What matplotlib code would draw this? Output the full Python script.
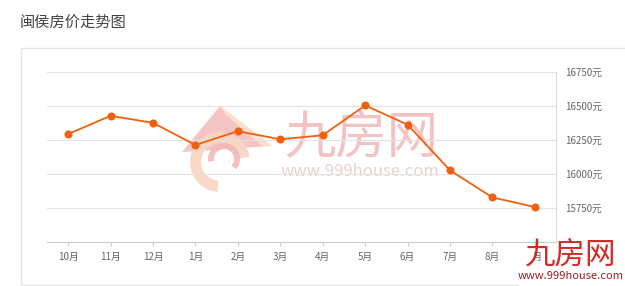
import numpy as np
import matplotlib
matplotlib.use("Agg")
import matplotlib.pyplot as plt
from matplotlib.patches import Polygon, Wedge, Rectangle

plt.rcParams["font.family"] = ["Noto Sans CJK SC", "DejaVu Sans"]
plt.rcParams["axes.unicode_minus"] = False

# 数据
months = ["10月", "11月", "12月", "1月", "2月", "3月", "4月", "5月", "6月", "7月", "8月", "9月"]
prices = [16294, 16428, 16376, 16213, 16315, 16255, 16285, 16504, 16363, 16027, 15828, 15757]
y_ticks = [15750, 16000, 16250, 16500, 16750]
y_min, y_max = 15500, 16750

W, H = 625, 286
LINE = "#f0600f"
GRID = "#e3e3e3"


def fx(x):
    return x / W


def fy(y):
    return 1 - y / H


fig = plt.figure(figsize=(W / 100, H / 100), dpi=100)

# 标题 + 卡片边框
fig.text(fx(20), fy(22), "闽侯房价走势图", fontsize=11, color="#444444", va="center", ha="left")
fig.patches.append(Rectangle((fx(20.5), fy(285)), fx(640), fy(47.5) - fy(285), transform=fig.transFigure,
                             fill=False, edgecolor="#e6e6e6", lw=1.0))

ax = fig.add_axes([fx(47), fy(242), fx(556) - fx(47), fy(72) - fy(242)])
x = np.arange(len(months))

ax.set_xlim(-0.5, len(months) - 0.5)
ax.set_ylim(y_min, y_max)
ax.set_xticks(x)
ax.set_xticklabels(months, fontsize=7, color="#666666")
ax.set_yticks(y_ticks)
ax.set_yticklabels([f"{v}元" for v in y_ticks], fontsize=7, color="#666666")
ax.yaxis.tick_right()
ax.tick_params(axis="y", length=0, pad=6.5)
ax.tick_params(axis="x", length=3, color="#cccccc", pad=4)

for sp in ["top", "left"]:
    ax.spines[sp].set_visible(False)
ax.spines["bottom"].set_color("#cccccc")
ax.spines["right"].set_color("#dddddd")
ax.spines["bottom"].set_linewidth(0.8)
ax.spines["right"].set_linewidth(0.8)
for v in y_ticks:
    ax.axhline(v, color=GRID, lw=0.8, zorder=0)

# 中间水印
wm = fig.add_axes([0, 0, 1, 1], zorder=0.5)
wm.set_xlim(0, W)
wm.set_ylim(H, 0)
wm.axis("off")
wm.patch.set_alpha(0)
wm.add_patch(Polygon([[182, 152], [220, 106], [272, 146]], closed=True, color="#f5c4c4", lw=0))
wm.add_patch(Polygon([[220, 106], [272, 146], [262, 146], [224, 113]], closed=True,
                     color="#fbe0cc", lw=0))
wm.add_patch(Wedge((220, 162), 30, 95, 350, width=11, color="#f9d6c4", alpha=0.95, lw=0))
wm.add_patch(Wedge((224, 159), 16, 170, 40, width=6, color="#f2b8b8", alpha=0.9, lw=0))
wm.text(361, 137, "九房网", fontsize=37, color="#f0b4b4", alpha=0.8, ha="center", va="center",
        fontweight="light")
wm.text(360, 172, "www.999house.com", fontsize=12, color="#e6cccc", alpha=0.9, ha="center", va="center")

ax.patch.set_alpha(0)
ax.set_zorder(1)
ax.plot(x, prices, color=LINE, lw=1.3, marker="o", markersize=4.8, zorder=3, clip_on=False)

# 右下角 logo
logo = fig.add_axes([0, 0, 1, 1], zorder=2)
logo.set_xlim(0, W)
logo.set_ylim(H, 0)
logo.axis("off")
logo.patch.set_alpha(0)
logo.add_patch(Rectangle((524, 250), 9, 13, color="white", lw=0))
logo.add_patch(Rectangle((519, 268), 106, 18, color="white", lw=0))
logo.text(571, 255, "九房网", fontsize=22, color="#d42a26", ha="center", va="center", fontweight="medium")
logo.text(571, 276, "www.999house.com", fontsize=8, color="#9a2020", ha="center", va="center")

fig.savefig("out.png", dpi=100, facecolor="white")
